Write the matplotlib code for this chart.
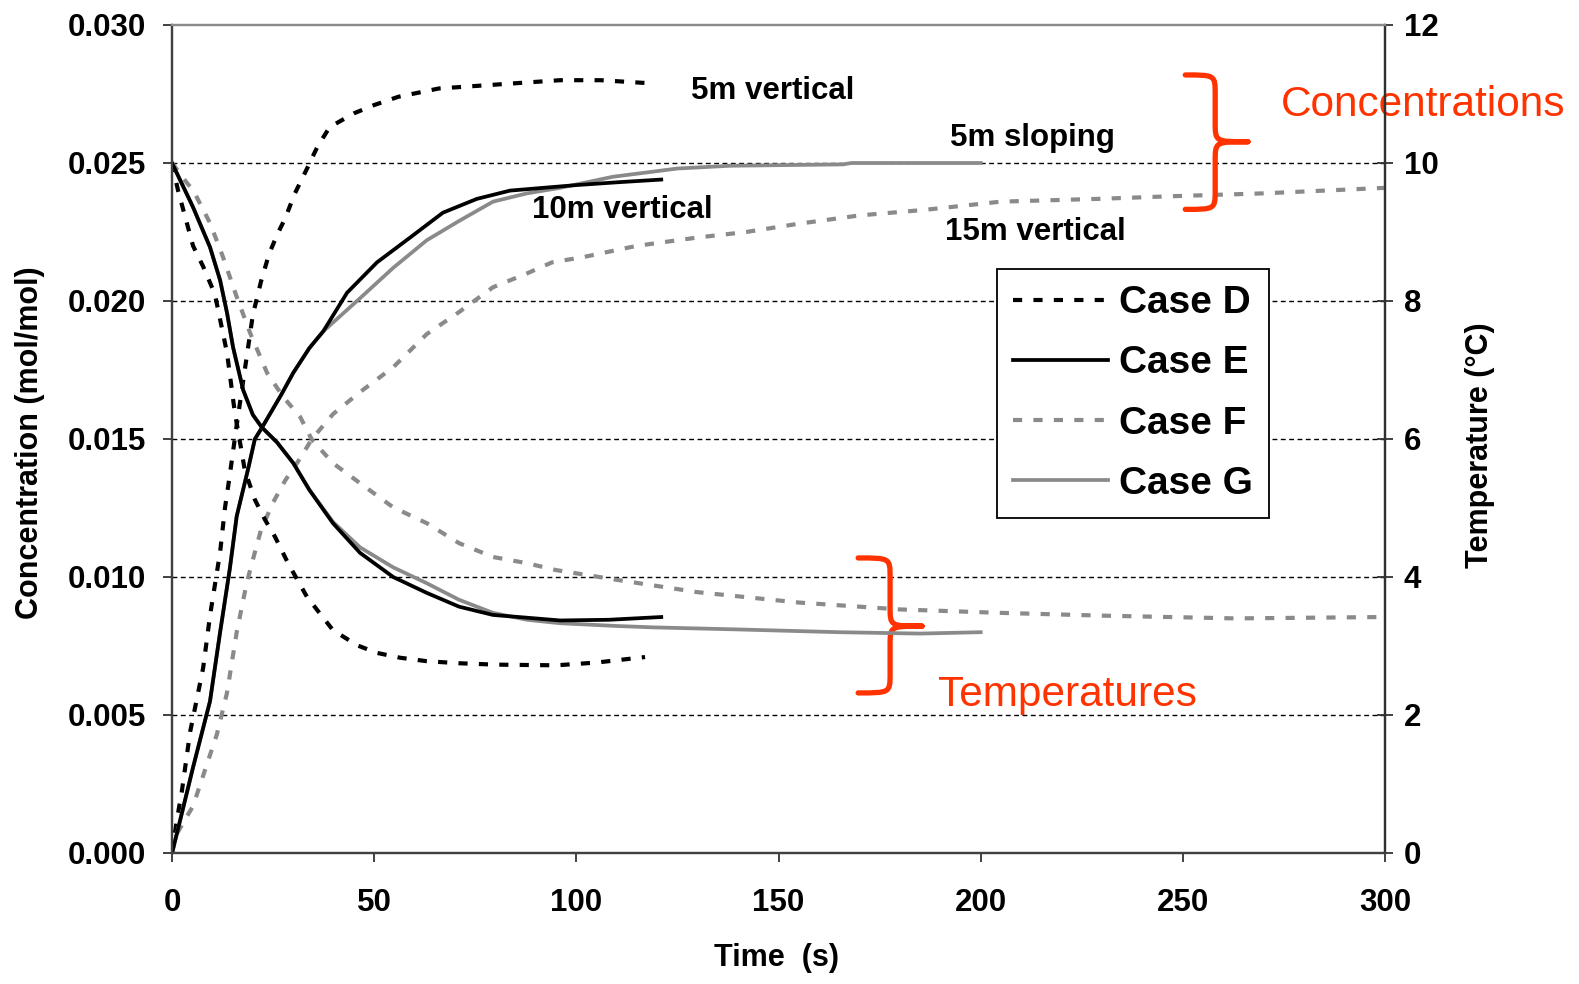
import matplotlib
matplotlib.use("Agg")
import matplotlib.pyplot as plt
from matplotlib.path import Path
from matplotlib.patches import PathPatch
from matplotlib.ticker import FormatStrFormatter

plt.rcParams['font.family'] = ['Liberation Sans', 'DejaVu Sans']

# ---------------- data ----------------
# Case D (5m vertical)
t_D_conc = [0, 1.2, 2.4, 4.5, 7.7, 9.4, 11.9, 13.1, 14.3, 16, 18, 20, 22, 24, 26, 28, 30.4, 33.4, 36, 39, 45, 50, 56, 66, 76, 86, 96, 106, 117]
c_D = [0, 0.0012, 0.0022, 0.0044, 0.0067, 0.0086, 0.0109, 0.0125, 0.0137, 0.0155, 0.0175, 0.0195, 0.0207, 0.0217, 0.0224, 0.0230, 0.0239, 0.0248, 0.0256, 0.0263, 0.0268, 0.0271, 0.0274, 0.0277, 0.0278, 0.0279, 0.0280, 0.0280, 0.0279]
t_D_temp = [0, 1.5, 5.2, 7.7, 10.6, 13.6, 15.5, 18, 20.5, 23, 25.5, 28.7, 33.4, 39.8, 45.8, 50.7, 56.4, 63, 71, 80, 95, 105, 117]
T_D = [10, 9.6, 8.8, 8.5, 8.1, 7.25, 6.4, 5.55, 5.12, 4.83, 4.58, 4.2, 3.71, 3.23, 3.01, 2.9, 2.83, 2.78, 2.75, 2.73, 2.72, 2.76, 2.84]

# Case E (10m vertical)
t_E_conc = [0, 1.2, 5.2, 9.4, 11.9, 14.3, 16, 18.8, 20.5, 22.2, 24.2, 27, 30, 34, 37.4, 43.3, 50.7, 58.9, 67, 75.4, 83.6, 91.8, 100, 110, 121]
c_E = [0, 0.0007, 0.0031, 0.0055, 0.0080, 0.0103, 0.0122, 0.0139, 0.0150, 0.0154, 0.0159, 0.0166, 0.0174, 0.0183, 0.0189, 0.0203, 0.0214, 0.0223, 0.0232, 0.0237, 0.0240, 0.0241, 0.0242, 0.0243, 0.0244]
t_E_temp = [0, 5.2, 9.4, 11.9, 13.6, 15.1, 17.6, 20, 22.2, 26, 30, 34, 39.8, 46.5, 54.7, 63, 71, 79.4, 87.8, 96, 108, 121]
T_E = [10, 9.36, 8.78, 8.30, 7.83, 7.33, 6.71, 6.35, 6.17, 5.95, 5.65, 5.26, 4.78, 4.35, 4.0, 3.77, 3.57, 3.45, 3.41, 3.37, 3.38, 3.42]

# Case F (15m vertical)
t_F_conc = [0, 1.2, 5.2, 7.7, 11.1, 13.6, 16, 18.5, 20.5, 22, 25, 28, 31.7, 34.6, 39.8, 46.5, 54.7, 63, 71, 79.4, 87.8, 94, 102, 115, 130, 142, 155, 170, 186, 205, 229, 248, 270, 300]
c_F = [0, 0.0007, 0.0017, 0.0028, 0.0043, 0.0058, 0.0080, 0.0098, 0.0109, 0.0117, 0.0127, 0.0135, 0.0143, 0.0150, 0.0159, 0.0167, 0.0176, 0.0188, 0.0196, 0.0205, 0.0210, 0.0214, 0.0216, 0.0220, 0.0223, 0.0225, 0.0228, 0.0231, 0.0233, 0.0236, 0.0237, 0.0238, 0.0239, 0.0241]
t_F_temp = [0, 3.7, 5.2, 9.4, 12.6, 16, 19.3, 23.5, 27.5, 31.7, 34.6, 39.8, 46.5, 54.7, 63, 71, 79.4, 87.8, 95, 111, 130, 155, 180, 205, 230, 263, 300]
T_F = [10, 9.71, 9.61, 9.13, 8.64, 8.06, 7.54, 6.96, 6.61, 6.32, 5.99, 5.65, 5.36, 5.01, 4.78, 4.49, 4.29, 4.2, 4.1, 3.95, 3.78, 3.63, 3.53, 3.48, 3.44, 3.40, 3.42]

# Case G (5m sloping)
t_G_conc = [0, 1.2, 5.2, 9.4, 11.9, 14.3, 16, 18.8, 20.5, 22.2, 24.2, 27, 30, 34, 37.4, 46.5, 54.7, 63, 71, 79.4, 87.8, 96, 109, 125, 138, 166, 168, 200]
c_G = [0, 0.0007, 0.0031, 0.0055, 0.0080, 0.0103, 0.0122, 0.0139, 0.0150, 0.0154, 0.0159, 0.0166, 0.0174, 0.0183, 0.0189, 0.0201, 0.0212, 0.0222, 0.0229, 0.0236, 0.0239, 0.0241, 0.0245, 0.0248, 0.0249, 0.02495, 0.0250, 0.0250]
t_G_temp = [0, 5.2, 9.4, 11.9, 13.6, 15.1, 17.6, 20, 22.2, 26, 30, 34, 39.8, 46.5, 54.7, 63, 71, 79.4, 87.8, 96, 110, 119, 140, 165, 185, 200]
T_G = [10, 9.36, 8.78, 8.30, 7.83, 7.33, 6.71, 6.35, 6.17, 5.95, 5.65, 5.26, 4.80, 4.43, 4.14, 3.91, 3.67, 3.48, 3.38, 3.33, 3.29, 3.27, 3.24, 3.20, 3.18, 3.20]

case_labels = ["Case D", "Case E", "Case F", "Case G"]
x_ticks = [0, 50, 100, 150, 200, 250, 300]
conc_ticks = [0.000, 0.005, 0.010, 0.015, 0.020, 0.025, 0.030]
temp_ticks = [0, 2, 4, 6, 8, 10, 12]

# ---------------- figure ----------------
fig = plt.figure(figsize=(15.79, 9.84), dpi=100)
ax = fig.add_axes([172 / 1579, 1 - 853 / 984, 1213 / 1579, 828 / 984])
ax2 = ax.twinx()

ax.set_xlim(0, 300)
ax.set_ylim(0, 0.030)
ax2.set_ylim(0, 12)

BLACK = "#000000"
GRAY = "#8a8a8a"
dot_ls = (0, (2.2, 2.7))
LWD = 3.0
LWS = 2.7

ax.plot(t_D_conc, c_D, color=BLACK, lw=LWD, ls=dot_ls, zorder=3)
ax.plot(t_F_conc, c_F, color=GRAY, lw=LWD, ls=dot_ls, zorder=3)
ax.plot(t_G_conc, c_G, color=GRAY, lw=LWS, zorder=3)
ax.plot(t_E_conc, c_E, color=BLACK, lw=LWS, zorder=3)

hD, = ax2.plot(t_D_temp, T_D, color=BLACK, lw=LWD, ls=dot_ls, label=case_labels[0])
hF, = ax2.plot(t_F_temp, T_F, color=GRAY, lw=LWD, ls=dot_ls, label=case_labels[2])
hG, = ax2.plot(t_G_temp, T_G, color=GRAY, lw=LWS, label=case_labels[3])
hE, = ax2.plot(t_E_temp, T_E, color=BLACK, lw=LWS, label=case_labels[1])

# grid
for v in conc_ticks[1:-1]:
    ax.axhline(v, color="black", lw=1.0, ls=(0, (3.5, 2.5)), zorder=1)

# axes styling
ax.set_xticks(x_ticks)
ax.set_yticks(conc_ticks)
ax2.set_yticks(temp_ticks)
ax.yaxis.set_major_formatter(FormatStrFormatter('%.3f'))
for lab in ax.get_xticklabels() + ax.get_yticklabels() + ax2.get_yticklabels():
    lab.set_fontsize(22.5)
    lab.set_fontweight('bold')
ax.tick_params(axis='y', direction='out', length=6.5, width=1.3, pad=12, colors='#333333', labelcolor='black')
ax.tick_params(axis='x', direction='out', length=6.5, width=1.3, pad=19, colors='#333333', labelcolor='black')
ax2.tick_params(axis='y', direction='inout', length=11, width=1.3, pad=8, colors='#333333', labelcolor='black')

for a in (ax, ax2):
    a.spines['left'].set_color('#404040')
    a.spines['bottom'].set_color('#404040')
    a.spines['right'].set_color('#303030')
    a.spines['top'].set_color('#8a8a8a')
    for s in a.spines.values():
        s.set_linewidth(1.6)

# axis labels
fig.text(777 / 1579, 1 - 958 / 984, "Time  (s)", fontsize=22, fontweight='bold', ha='center', va='center')
fig.text(30 / 1579, 1 - 443 / 984, "Concentration (mol/mol)", fontsize=22, fontweight='bold',
         ha='center', va='center', rotation=90)
fig.text(1480 / 1579, 1 - 445 / 984, "Temperature (°C)", fontsize=22, fontweight='bold',
         ha='center', va='center', rotation=90)

# case annotations
ann = dict(fontsize=22.5, fontweight='bold', ha='center', va='center', zorder=5)
ax.text(148.5, 0.02760, "5m vertical", **ann)
ax.text(212.8, 0.02590, "5m sloping", **ann)
ax.text(111.3, 0.02330, "10m vertical", **ann)
ax.text(213.6, 0.02250, "15m vertical", **ann)

# braces
RED = "#ff3300"


def brace(axis, x0, xm, x1, ytop, ytip, ybot, r):
    verts = [
        (x0, ytop),
        (xm, ytop), (xm, ytop), (xm, ytop - r),
        (xm, ytip + r),
        (xm, ytip), (xm, ytip), (x1, ytip),
        (xm, ytip), (xm, ytip), (xm, ytip - r),
        (xm, ybot + r),
        (xm, ybot), (xm, ybot), (x0, ybot),
    ]
    codes = [Path.MOVETO,
             Path.CURVE4, Path.CURVE4, Path.CURVE4,
             Path.LINETO,
             Path.CURVE4, Path.CURVE4, Path.CURVE4,
             Path.CURVE4, Path.CURVE4, Path.CURVE4,
             Path.LINETO,
             Path.CURVE4, Path.CURVE4, Path.CURVE4]
    p = PathPatch(Path(verts, codes), fill=False, edgecolor=RED, lw=3.8,
                  capstyle='round', joinstyle='round', zorder=6, clip_on=False)
    axis.add_patch(p)


brace(ax, 250.6, 258.0, 266.1, 0.02819, 0.02577, 0.02332, 0.0007)
brace(ax, 169.7, 177.6, 185.5, 0.01069, 0.00822, 0.0058, 0.0007)

ax.text(309.5, 0.02710, "Concentrations", fontsize=30.5, color=RED, ha='center', va='center',
        clip_on=False, zorder=0)
ax.text(221.5, 0.00572, "Temperatures", fontsize=30.5, color=RED, ha='center', va='center', zorder=6)

# legend
leg = ax2.legend(handles=[hD, hE, hF, hG], loc='upper left', bbox_to_anchor=(0.6800, 0.7053),
                 borderaxespad=0, fancybox=False, framealpha=1, edgecolor='black',
                 prop=dict(family=['Liberation Sans'], weight='bold', size=28),
                 handlelength=2.45, handletextpad=0.26, labelspacing=0.62, borderpad=0.42)
leg.get_frame().set_linewidth(1.3)
leg.set_zorder(10)

fig.savefig("out.png", dpi=100)
